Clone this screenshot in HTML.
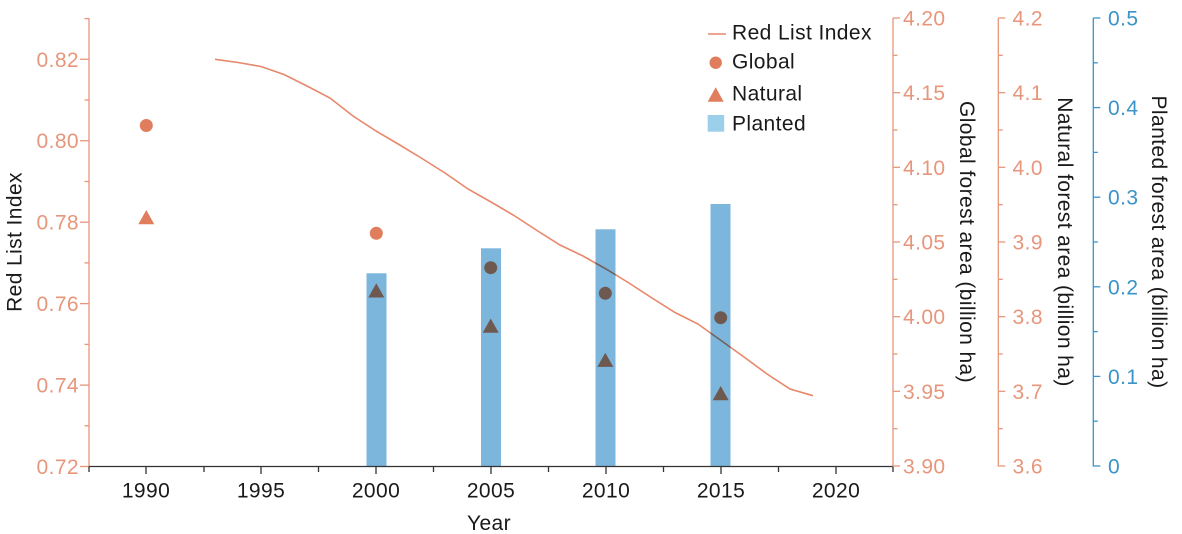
<!DOCTYPE html>
<html>
<head>
<meta charset="utf-8">
<style>
  html,body{margin:0;padding:0;background:#fff;}
  svg{display:block;}
  text{font-family:"Liberation Sans",Arial,sans-serif;font-size:21px;letter-spacing:0.4px;}
</style>
</head>
<body>
<svg width="1182" height="534" viewBox="0 0 1182 534" xmlns="http://www.w3.org/2000/svg">
  <rect x="0" y="0" width="1182" height="534" fill="#ffffff"/>

  <!-- Bars (planted) -->
  <g fill="#7db6dc">
    <rect x="366.5" y="273.3" width="20" height="193"/>
    <rect x="481" y="248.3" width="20" height="218"/>
    <rect x="595.5" y="229.3" width="20" height="237"/>
    <rect x="710.5" y="204" width="20" height="262.3"/>
  </g>

  <!-- Red List Index line -->
  <polyline fill="none" stroke="#e8876a" stroke-width="1.6" style="mix-blend-mode:multiply"
    points="215,59.3 238,62.5 261,66.5 284,74.5 307,86 330,98 353,116 376,131 399,144.5 422,158.5 445,173 468,189 491,202 514,215.5 537,230.5 560,245 583,256 606,269 629,283 652,298 675,312.5 698,324 721,340.5 744,357 767,374 790,389 813,395.7"/>

  <!-- Markers -->
  <g fill="#e07d5c" style="mix-blend-mode:multiply">
    <circle cx="146.3" cy="125.5" r="6.5" style="mix-blend-mode:multiply"/>
    <circle cx="376.3" cy="233.3" r="6.5" style="mix-blend-mode:multiply"/>
    <circle cx="490.7" cy="267.7" r="6.5" style="mix-blend-mode:multiply"/>
    <circle cx="605.3" cy="293.3" r="6.5" style="mix-blend-mode:multiply"/>
    <circle cx="720.7" cy="317.7" r="6.5" style="mix-blend-mode:multiply"/>
    <polygon points="146.3,210 154.3,224.2 138.3,224.2" style="mix-blend-mode:multiply"/>
    <polygon points="376.3,283.3 384.3,297.5 368.3,297.5" style="mix-blend-mode:multiply"/>
    <polygon points="490.7,318.5 498.7,332.7 482.7,332.7" style="mix-blend-mode:multiply"/>
    <polygon points="605.3,352.7 613.3,366.9 597.3,366.9" style="mix-blend-mode:multiply"/>
    <polygon points="720.7,386 728.7,400.2 712.7,400.2" style="mix-blend-mode:multiply"/>
  </g>

  <!-- Left axis -->
  <g stroke="#e8967b" stroke-width="1.3" fill="none">
    <line x1="89" y1="18" x2="89" y2="466.5"/>
    <line x1="80" y1="59.3" x2="89" y2="59.3"/>
    <line x1="80" y1="140.7" x2="89" y2="140.7"/>
    <line x1="80" y1="222.2" x2="89" y2="222.2"/>
    <line x1="80" y1="303.6" x2="89" y2="303.6"/>
    <line x1="80" y1="385.1" x2="89" y2="385.1"/>
    <line x1="80" y1="466.5" x2="89" y2="466.5"/>
    <line x1="84.5" y1="18.6" x2="89" y2="18.6"/>
    <line x1="84.5" y1="100" x2="89" y2="100"/>
    <line x1="84.5" y1="181.5" x2="89" y2="181.5"/>
    <line x1="84.5" y1="262.9" x2="89" y2="262.9"/>
    <line x1="84.5" y1="344.4" x2="89" y2="344.4"/>
    <line x1="84.5" y1="425.8" x2="89" y2="425.8"/>
  </g>
  <g fill="#e8967b" text-anchor="end">
    <text x="79" y="66.8">0.82</text>
    <text x="79" y="148.2">0.80</text>
    <text x="79" y="229.7">0.78</text>
    <text x="79" y="311.1">0.76</text>
    <text x="79" y="392.6">0.74</text>
    <text x="79" y="474">0.72</text>
  </g>
  <text transform="translate(21.5,242) rotate(-90)" text-anchor="middle" fill="#1a1a1a">Red List Index</text>

  <!-- X axis -->
  <g stroke="#333" stroke-width="1.3">
    <line x1="89" y1="466.5" x2="893" y2="466.5"/>
    <line x1="146" y1="466.5" x2="146" y2="474"/>
    <line x1="261" y1="466.5" x2="261" y2="474"/>
    <line x1="376" y1="466.5" x2="376" y2="474"/>
    <line x1="491" y1="466.5" x2="491" y2="474"/>
    <line x1="606" y1="466.5" x2="606" y2="474"/>
    <line x1="721" y1="466.5" x2="721" y2="474"/>
    <line x1="836" y1="466.5" x2="836" y2="474"/>
    <line x1="89" y1="466.5" x2="89" y2="472"/>
    <line x1="204" y1="466.5" x2="204" y2="472"/>
    <line x1="318.5" y1="466.5" x2="318.5" y2="472"/>
    <line x1="433.5" y1="466.5" x2="433.5" y2="472"/>
    <line x1="548.5" y1="466.5" x2="548.5" y2="472"/>
    <line x1="663.5" y1="466.5" x2="663.5" y2="472"/>
    <line x1="778.5" y1="466.5" x2="778.5" y2="472"/>
    <line x1="893" y1="466.5" x2="893" y2="472"/>
  </g>
  <g fill="#1a1a1a" text-anchor="middle">
    <text x="146" y="497.5">1990</text>
    <text x="261" y="497.5">1995</text>
    <text x="376" y="497.5">2000</text>
    <text x="491" y="497.5">2005</text>
    <text x="606" y="497.5">2010</text>
    <text x="721" y="497.5">2015</text>
    <text x="836" y="497.5">2020</text>
    <text x="489" y="530">Year</text>
  </g>

  <!-- Global axis -->
  <g stroke="#e8967b" stroke-width="1.3" fill="none">
    <line x1="893" y1="18" x2="893" y2="466.5"/>
    <line x1="893" y1="18" x2="900" y2="18"/>
    <line x1="893" y1="92.7" x2="900" y2="92.7"/>
    <line x1="893" y1="167.3" x2="900" y2="167.3"/>
    <line x1="893" y1="242" x2="900" y2="242"/>
    <line x1="893" y1="316.7" x2="900" y2="316.7"/>
    <line x1="893" y1="391.3" x2="900" y2="391.3"/>
    <line x1="893" y1="466" x2="900" y2="466"/>
    <line x1="893" y1="55.3" x2="897.5" y2="55.3"/>
    <line x1="893" y1="130" x2="897.5" y2="130"/>
    <line x1="893" y1="204.7" x2="897.5" y2="204.7"/>
    <line x1="893" y1="279.3" x2="897.5" y2="279.3"/>
    <line x1="893" y1="354" x2="897.5" y2="354"/>
    <line x1="893" y1="428.7" x2="897.5" y2="428.7"/>
  </g>
  <g fill="#e8967b">
    <text x="903" y="25.5">4.20</text>
    <text x="903" y="100.2">4.15</text>
    <text x="903" y="174.8">4.10</text>
    <text x="903" y="249.5">4.05</text>
    <text x="903" y="324.2">4.00</text>
    <text x="903" y="398.8">3.95</text>
    <text x="903" y="473.5">3.90</text>
  </g>
  <text transform="translate(960,242) rotate(90)" text-anchor="middle" fill="#1a1a1a">Global forest area (billion ha)</text>

  <!-- Natural axis -->
  <g stroke="#e8967b" stroke-width="1.3" fill="none">
    <line x1="998.3" y1="18" x2="998.3" y2="466.5"/>
    <line x1="998.3" y1="18" x2="1005.3" y2="18"/>
    <line x1="998.3" y1="92.7" x2="1005.3" y2="92.7"/>
    <line x1="998.3" y1="167.3" x2="1005.3" y2="167.3"/>
    <line x1="998.3" y1="242" x2="1005.3" y2="242"/>
    <line x1="998.3" y1="316.7" x2="1005.3" y2="316.7"/>
    <line x1="998.3" y1="391.3" x2="1005.3" y2="391.3"/>
    <line x1="998.3" y1="466" x2="1005.3" y2="466"/>
    <line x1="998.3" y1="55.3" x2="1002.8" y2="55.3"/>
    <line x1="998.3" y1="130" x2="1002.8" y2="130"/>
    <line x1="998.3" y1="204.7" x2="1002.8" y2="204.7"/>
    <line x1="998.3" y1="279.3" x2="1002.8" y2="279.3"/>
    <line x1="998.3" y1="354" x2="1002.8" y2="354"/>
    <line x1="998.3" y1="428.7" x2="1002.8" y2="428.7"/>
  </g>
  <g fill="#e8967b">
    <text x="1012.5" y="25.5">4.2</text>
    <text x="1012.5" y="100.2">4.1</text>
    <text x="1012.5" y="174.8">4.0</text>
    <text x="1012.5" y="249.5">3.9</text>
    <text x="1012.5" y="324.2">3.8</text>
    <text x="1012.5" y="398.8">3.7</text>
    <text x="1012.5" y="473.5">3.6</text>
  </g>
  <text transform="translate(1058,242) rotate(90)" text-anchor="middle" fill="#1a1a1a">Natural forest area (billion ha)</text>

  <!-- Planted axis -->
  <g stroke="#3a93c9" stroke-width="1.3" fill="none">
    <line x1="1093.3" y1="18" x2="1093.3" y2="466.5"/>
    <line x1="1093.3" y1="18" x2="1100.3" y2="18"/>
    <line x1="1093.3" y1="107.6" x2="1100.3" y2="107.6"/>
    <line x1="1093.3" y1="197.2" x2="1100.3" y2="197.2"/>
    <line x1="1093.3" y1="286.8" x2="1100.3" y2="286.8"/>
    <line x1="1093.3" y1="376.4" x2="1100.3" y2="376.4"/>
    <line x1="1093.3" y1="466" x2="1100.3" y2="466"/>
    <line x1="1093.3" y1="62.8" x2="1097.8" y2="62.8"/>
    <line x1="1093.3" y1="152.4" x2="1097.8" y2="152.4"/>
    <line x1="1093.3" y1="242" x2="1097.8" y2="242"/>
    <line x1="1093.3" y1="331.6" x2="1097.8" y2="331.6"/>
    <line x1="1093.3" y1="421.2" x2="1097.8" y2="421.2"/>
  </g>
  <g fill="#3a93c9">
    <text x="1108" y="25.5">0.5</text>
    <text x="1108" y="115.1">0.4</text>
    <text x="1108" y="204.7">0.3</text>
    <text x="1108" y="294.3">0.2</text>
    <text x="1108" y="383.9">0.1</text>
    <text x="1108" y="473.5">0</text>
  </g>
  <text transform="translate(1152,242) rotate(90)" text-anchor="middle" fill="#1a1a1a">Planted forest area (billion ha)</text>

  <!-- Legend -->
  <line x1="708" y1="34" x2="726" y2="34" stroke="#e8876a" stroke-width="1.6"/>
  <circle cx="715.7" cy="62.7" r="6.2" fill="#e07d5c"/>
  <polygon points="715.7,87.3 723.7,101.7 707.7,101.7" fill="#e07d5c"/>
  <rect x="707.7" y="115" width="16.5" height="16.7" fill="#9ccfea"/>
  <g fill="#1a1a1a">
    <text x="732" y="39.5">Red List Index</text>
    <text x="732" y="68.5">Global</text>
    <text x="732" y="100.7">Natural</text>
    <text x="732" y="130.7">Planted</text>
  </g>
</svg>
</body>
</html>
